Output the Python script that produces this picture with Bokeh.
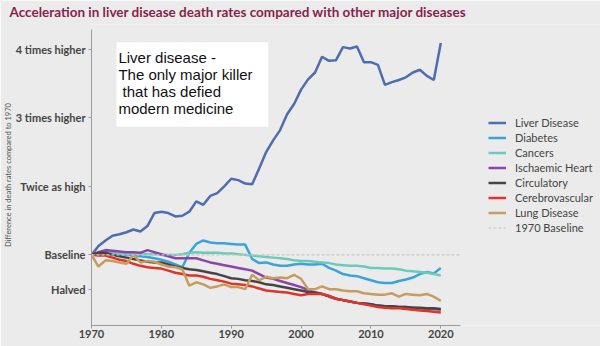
from bokeh.plotting import figure
from bokeh.models import Legend, LegendItem, BoxAnnotation, Label, FixedTicker
from bokeh.embed import file_html
from bokeh.resources import INLINE

years = list(range(1970, 2021))

liver = [1.00, 1.13, 1.21, 1.28, 1.30, 1.33, 1.37, 1.34, 1.42, 1.61, 1.63, 1.61, 1.56, 1.57, 1.63, 1.78,
         1.73, 1.86, 1.90, 2.00, 2.11, 2.09, 2.04, 2.03, 2.26, 2.50, 2.67, 2.82, 3.05, 3.20, 3.41, 3.56,
         3.66, 3.89, 3.83, 3.84, 4.03, 4.01, 4.04, 3.81, 3.81, 3.77, 3.48, 3.52, 3.55, 3.59, 3.66, 3.70,
         3.61, 3.55, 4.09]
diabetes = [1.00, 1.02, 1.06, 1.03, 1.01, 1.00, 0.99, 0.98, 0.97, 0.95, 0.93, 0.90, 0.86, 0.82, 1.03, 1.16,
            1.21, 1.18, 1.17, 1.17, 1.16, 1.15, 1.15, 0.94, 0.88, 0.89, 0.86, 0.84, 0.84, 0.86, 0.87, 0.86,
            0.86, 0.87, 0.81, 0.77, 0.72, 0.70, 0.69, 0.66, 0.63, 0.60, 0.59, 0.59, 0.62, 0.64, 0.67, 0.72,
            0.75, 0.73, 0.81]
cancers = [1.00, 1.01, 1.02, 1.02, 1.02, 1.02, 1.02, 1.02, 1.01, 1.01, 1.00, 1.00, 1.00, 1.01, 1.03, 1.04,
           1.03, 1.03, 1.03, 1.02, 1.02, 1.01, 1.00, 0.99, 0.98, 0.97, 0.96, 0.95, 0.94, 0.92, 0.91, 0.91,
           0.90, 0.89, 0.88, 0.86, 0.85, 0.84, 0.84, 0.83, 0.81, 0.81, 0.80, 0.80, 0.79, 0.77, 0.76, 0.75,
           0.74, 0.72, 0.70]
ischaemic = [1.00, 1.04, 1.07, 1.06, 1.05, 1.04, 1.04, 1.03, 1.07, 1.04, 1.01, 0.98, 0.95, 0.95, 0.95, 0.95,
             0.92, 0.89, 0.87, 0.85, 0.83, 0.81, 0.79, 0.77, 0.72, 0.67, 0.65, 0.62, 0.59, 0.56, 0.53, 0.49,
             0.45, 0.43, 0.39, 0.36, 0.34, 0.32, 0.30, 0.29, 0.28, 0.26, 0.25, 0.25, 0.24, 0.24, 0.23, 0.22,
             0.21, 0.21, 0.20]
circulatory = [1.00, 1.03, 1.03, 1.00, 0.98, 0.96, 0.94, 0.92, 0.90, 0.89, 0.89, 0.86, 0.83, 0.81, 0.79, 0.78,
               0.76, 0.74, 0.72, 0.69, 0.66, 0.65, 0.63, 0.62, 0.60, 0.57, 0.56, 0.54, 0.52, 0.50, 0.48, 0.46,
               0.45, 0.43, 0.40, 0.36, 0.34, 0.32, 0.30, 0.29, 0.28, 0.26, 0.25, 0.25, 0.24, 0.24, 0.23, 0.23,
               0.22, 0.22, 0.21]
cerebro = [1.00, 0.99, 0.99, 0.96, 0.93, 0.91, 0.87, 0.84, 0.82, 0.81, 0.80, 0.77, 0.74, 0.72, 0.70, 0.70,
           0.68, 0.65, 0.63, 0.61, 0.58, 0.57, 0.56, 0.54, 0.51, 0.48, 0.47, 0.46, 0.45, 0.43, 0.41, 0.43,
           0.43, 0.43, 0.40, 0.36, 0.34, 0.32, 0.30, 0.28, 0.26, 0.24, 0.23, 0.22, 0.22, 0.21, 0.20, 0.19,
           0.18, 0.17, 0.16]
lung = [1.00, 0.83, 0.92, 0.91, 0.89, 0.87, 1.00, 0.89, 0.91, 0.90, 0.86, 0.83, 0.82, 0.79, 0.55, 0.60,
        0.57, 0.52, 0.54, 0.57, 0.53, 0.53, 0.50, 0.71, 0.63, 0.68, 0.66, 0.67, 0.66, 0.71, 0.65, 0.50,
        0.50, 0.54, 0.50, 0.50, 0.48, 0.47, 0.47, 0.44, 0.43, 0.42, 0.42, 0.44, 0.39, 0.43, 0.42, 0.41,
        0.43, 0.39, 0.33]

series_names = ["Liver Disease", "Diabetes", "Cancers", "Ischaemic Heart", "Circulatory",
                "Cerebrovascular", "Lung Disease"]
series_values = [liver, diabetes, cancers, ischaemic, circulatory, cerebro, lung]
colors = ["#4e6cb0", "#3aa4da", "#6ccab9", "#8c45a6", "#454545", "#de3529", "#c79c5e"]

baseline_name = "1970 Baseline"
baseline_years = [1970, 2022.86]
baseline_values = [1, 1]
y_tick_values = [0.5, 1, 2, 3, 4]
y_tick_labels = ["Halved", "Baseline", "Twice as high", "3 times higher", "4 times higher"]
x_tick_values = [1970, 1980, 1990, 2000, 2010, 2020]

title_text = "Acceleration in liver disease death rates compared with other major diseases"
note_text = "Liver disease -\nThe only major killer\n\u00a0that has defied\nmodern medicine"
y_label = "Difference in death rates compared to 1970"

bg = "#ebebeb"
p = figure(width=600, height=346, output_backend="svg", toolbar_location=None,
           x_range=(1970, 2042.86), y_range=(-0.03, 4.36),
           min_border_left=90, min_border_right=0, min_border_top=0, min_border_bottom=21,
           background_fill_color=bg, border_fill_color=bg)

p.title.text = title_text
p.title.text_font = "Lato"
p.title.text_font_size = "13.5px"
p.title.text_font_style = "bold"
p.title.text_color = "#8a1f4c"
p.title.align = "left"
p.title.vertical_align = "top"
p.title.offset = -82
p.title.standoff = 6

p.outline_line_color = None
p.xgrid.grid_line_color = None
p.ygrid.grid_line_color = None

p.yaxis.ticker = FixedTicker(ticks=y_tick_values)
p.yaxis.major_label_overrides = {v: l for v, l in zip(y_tick_values, y_tick_labels)}
p.yaxis.bounds = (-0.03, 4.29)
p.xaxis.ticker = FixedTicker(ticks=x_tick_values)
p.xaxis.bounds = (1970, 2022.86)
for ax in (p.xaxis, p.yaxis):
    ax.axis_line_color = "#9a9a9a"
    ax.major_tick_line_color = "#9a9a9a"
    ax.minor_tick_line_color = None
    ax.major_tick_out = 3
    ax.major_tick_in = 0
    ax.major_label_standoff = 3
    ax.major_label_text_font = "Lato"
    ax.major_label_text_font_size = "11px"
    ax.major_label_text_font_style = "bold"
    ax.major_label_text_color = "#444444"
p.xaxis.major_label_standoff = 1
p.yaxis.axis_label = y_label
p.yaxis.axis_label_standoff = 0
p.yaxis.axis_label_text_font = "Lato"
p.yaxis.axis_label_text_font_size = "7.5px"
p.yaxis.axis_label_text_font_style = "normal"
p.yaxis.axis_label_text_color = "#555555"

items = []
for name, vals, col in zip(series_names, series_values, colors):
    r = p.line(years, vals, line_color=col, line_width=2.5)
    items.append(LegendItem(label=name, renderers=[r]))
base = p.line(baseline_years, baseline_values, line_color="#c8c8c8", line_width=1.2, line_dash="3 2")
items.append(LegendItem(label=baseline_name, renderers=[base]))

legend = Legend(items=items, location=(397, 90), padding=0, spacing=0, margin=0,
                label_height=15, glyph_height=15, glyph_width=18, label_standoff=9,
                label_text_font="Lato", label_text_font_size="11px", label_text_color="#444444",
                background_fill_alpha=0, border_line_alpha=0)
p.add_layout(legend, "center")

p.add_layout(BoxAnnotation(left=1973.57, right=1995.3, top=4.10, bottom=2.87,
                           fill_color="white", fill_alpha=1, line_color=None))
p.add_layout(Label(x=1973.85, y=4.00, text=note_text, text_baseline="top",
                   text_font="Liberation Sans", text_font_size="15px", text_color="#111111",
                   text_line_height=1.0))

open("out.html", "w").write(file_html(p, INLINE))
